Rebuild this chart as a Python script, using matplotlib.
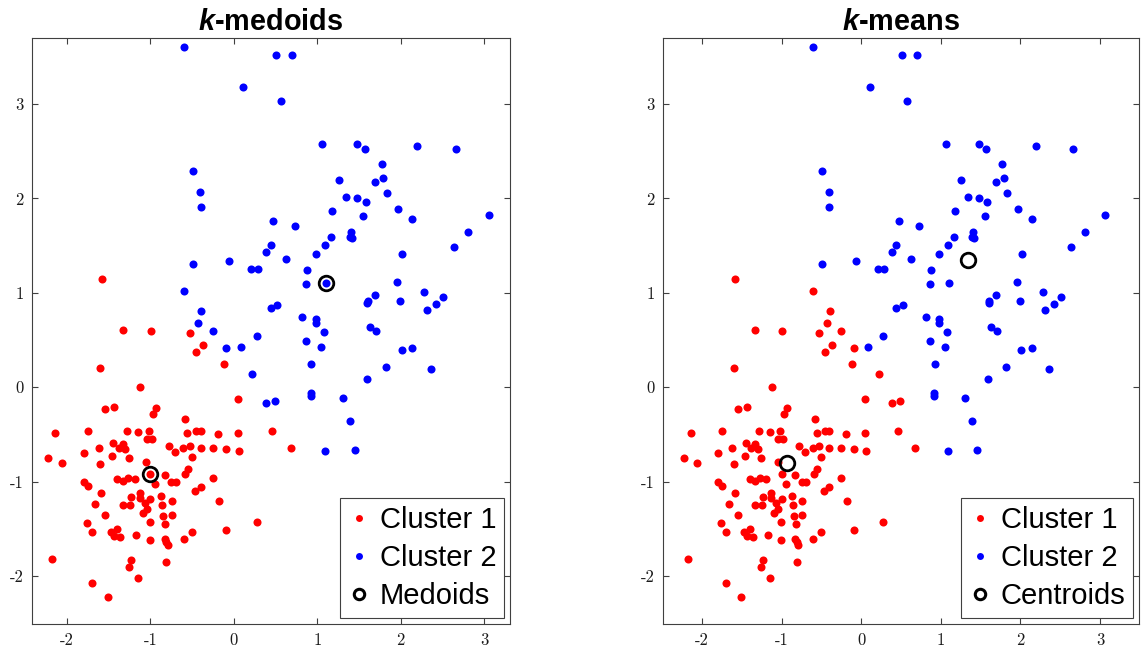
import matplotlib
matplotlib.use('Agg')
import matplotlib.pyplot as plt
from matplotlib.lines import Line2D

# ---------------- data ----------------
# points assigned to cluster 1 in both methods
red_x = [-1.60, -1.12, -1.55, -1.44, -0.93, -0.97, -0.58, -2.14, -1.75, -1.28,
         -1.15, -1.02, -1.04, -0.98, -0.56, -0.46, -0.40, -1.45, -1.33, -1.38,
         -1.30, -1.62, -0.78, -0.70, -0.61, -0.53, -0.40, -1.80, -1.46, -1.26,
         -2.23, -2.06, -1.60, -1.05, -0.50, -0.55, -0.59, -1.00, -0.83, -1.40,
         -1.33, -1.27, -1.19, -0.94, -0.75, -0.69, -1.80, -1.75, -0.40, -0.47,
         -1.59, -1.23, -1.13, -1.13, -1.00, -0.87, -0.74, -1.66, -1.33, -1.24,
         -1.07, -1.04, -1.09, -0.86, -1.55, -0.85, -0.74, -1.76, -1.01, -0.82,
         -1.70, -1.47, -1.40, -1.44, -1.36, -1.17, -1.01, -0.83, -0.81, -0.79,
         -0.60, -0.50, -2.18, -1.23, -1.26, -0.81, -1.15, -1.70, -1.51, -1.58,
         -1.33, -0.99, -0.53, -0.37, -0.45, -0.12, 0.05, -0.19, 0.05, 0.46,
         -0.25, -0.09, 0.06, 0.68, -0.25, -0.18, 0.28, -0.09]
red_y = [0.20, 0.00, -0.23, -0.21, -0.22, -0.28, -0.34, -0.49, -0.46, -0.46,
         -0.48, -0.46, -0.55, -0.55, -0.49, -0.47, -0.47, -0.59, -0.60, -0.64,
         -0.66, -0.64, -0.62, -0.69, -0.65, -0.62, -0.64, -0.70, -0.73, -0.75,
         -0.75, -0.80, -0.81, -0.79, -0.74, -0.87, -0.92, -0.92, -0.93, -0.97,
         -0.99, -0.96, -0.97, -1.03, -1.01, -1.00, -1.00, -1.05, -1.06, -1.10,
         -1.12, -1.16, -1.12, -1.18, -1.19, -1.15, -1.21, -1.24, -1.25, -1.25,
         -1.23, -1.29, -1.33, -1.25, -1.36, -1.37, -1.35, -1.44, -1.43, -1.45,
         -1.54, -1.54, -1.50, -1.58, -1.59, -1.57, -1.62, -1.61, -1.64, -1.67,
         -1.61, -1.54, -1.82, -1.83, -1.91, -1.85, -2.02, -2.08, -2.22, 1.15,
         0.61, 0.59, 0.57, 0.45, 0.37, 0.24, -0.13, -0.50, -0.49, -0.46,
         -0.65, -0.66, -0.68, -0.65, -0.96, -1.21, -1.43, -1.51]

# points assigned to cluster 2 in both methods
blue_x = [-0.60, 0.51, 0.70, 0.11, 0.57, 1.06, -0.49, 1.26, -0.41, -0.40,
          1.18, 0.47, 0.73, 1.17, 1.09, 0.44, 0.39, 0.98, 0.62, -0.49,
          -0.06, 0.21, 0.29, 0.88, 0.86, 1.10, 1.48, 1.57, 2.19, 2.66,
          1.77, 1.69, 1.79, 1.83, 1.34, 1.48, 1.58, 1.97, 2.14, 3.06,
          1.55, 1.40, 1.39, 1.42, 2.81, 2.02, 2.64, 1.96, 1.69, 1.61,
          1.60, 1.99, 2.28, 2.51, 2.42, 2.31, 0.82, 0.98, 0.98, 1.08,
          0.86, 1.05, 1.63, 1.70, 2.01, 2.14, 0.93, 1.82, 2.36, 1.59,
          0.92, 0.92, 1.31, 1.39, 1.09, 1.45, 0.09, 0.28, 0.44, 0.52]
blue_y = [3.60, 3.52, 3.52, 3.18, 3.03, 2.58, 2.29, 2.19, 2.07, 1.91,
          1.87, 1.76, 1.71, 1.59, 1.51, 1.51, 1.43, 1.41, 1.36, 1.30,
          1.34, 1.25, 1.25, 1.24, 1.09, 1.10, 2.58, 2.52, 2.56, 2.52,
          2.37, 2.17, 2.22, 2.06, 2.02, 2.00, 1.96, 1.89, 1.78, 1.82,
          1.81, 1.64, 1.59, 1.58, 1.64, 1.41, 1.48, 1.11, 0.98, 0.91,
          0.89, 0.91, 1.01, 0.96, 0.88, 0.82, 0.74, 0.72, 0.68, 0.58,
          0.49, 0.43, 0.64, 0.59, 0.39, 0.42, 0.25, 0.21, 0.19, 0.09,
          -0.06, -0.09, -0.11, -0.36, -0.68, -0.67, 0.43, 0.54, 0.84, 0.87]

# points in cluster 2 for k-medoids but cluster 1 for k-means
swap_x = [-0.60, -0.39, -0.43, -0.25, -0.09, 0.22, 0.39, 0.49]
swap_y = [1.02, 0.81, 0.68, 0.59, 0.42, 0.14, -0.17, -0.15]

medoids_x = [-1.00, 1.10]
medoids_y = [-0.92, 1.10]
centroids_x = [-0.93, 1.34]
centroids_y = [-0.80, 1.35]

ticks = [-2, -1, 0, 1, 2, 3]
titles = [r'$\mathit{k}$-medoids', r'$\mathit{k}$-means']
legend_labels = [['Cluster 1', 'Cluster 2', 'Medoids'],
                 ['Cluster 1', 'Cluster 2', 'Centroids']]

# ---------------- style ----------------
plt.rcParams['mathtext.fontset'] = 'custom'
plt.rcParams['mathtext.it'] = 'Liberation Sans:italic:bold'
plt.rcParams['mathtext.rm'] = 'Liberation Sans:bold'
plt.rcParams['axes.unicode_minus'] = False

W, H = 1141, 653
fig = plt.figure(figsize=(W / 100, H / 100), dpi=100)
ax1 = fig.add_axes([32 / W, 29 / H, 478 / W, 586 / H])
ax2 = fig.add_axes([663 / W, 29 / H, 476 / W, 586 / H])

dot = dict(marker='o', linestyle='none', ms=5.8, mew=0)
ring = dict(marker='o', linestyle='none', ms=10.5, mew=2.0, mfc='none', mec='k')

ax1.plot(red_x, red_y, color='r', **dot)
ax1.plot(blue_x + swap_x, blue_y + swap_y, color='b', **dot)
ax1.plot(medoids_x, medoids_y, **ring)

ax2.plot(red_x + swap_x, red_y + swap_y, color='r', **dot)
ax2.plot(blue_x, blue_y, color='b', **dot)
ax2.plot(centroids_x, centroids_y, **ring)

xlims = [(-2.42, 3.31), (-2.49, 3.49)]
for ax, xl, title, labs in zip([ax1, ax2], xlims, titles, legend_labels):
    ax.set_xlim(*xl)
    ax.set_ylim(-2.51, 3.70)
    ax.set_xticks(ticks)
    ax.set_yticks(ticks)
    ax.tick_params(direction='in', top=True, right=True, length=4.5, width=0.8,
                   color='0.25', labelsize=12, labelcolor='0.1', pad=6,
                   labelfontfamily='cmr10')
    for sp in ax.spines.values():
        sp.set_linewidth(0.8)
        sp.set_color('0.25')
    ax.set_title(title, fontsize=20.8, fontweight='bold', family='Liberation Sans',
                 pad=6)
    handles = [Line2D([], [], marker='o', linestyle='none', ms=5, mew=0, color='r'),
               Line2D([], [], marker='o', linestyle='none', ms=5, mew=0, color='b'),
               Line2D([], [], marker='o', linestyle='none', ms=7.5, mew=2.2,
                      mfc='none', mec='k')]
    leg = ax.legend(handles, labs, loc='lower right',
                    prop={'family': 'Liberation Sans', 'size': 21},
                    handlelength=0.8, handletextpad=0.3, borderpad=0.27,
                    labelspacing=0.35, borderaxespad=0.2, fancybox=False,
                    framealpha=1, edgecolor='0.25')
    leg.get_frame().set_linewidth(0.8)

fig.savefig('out.png', dpi=100)
